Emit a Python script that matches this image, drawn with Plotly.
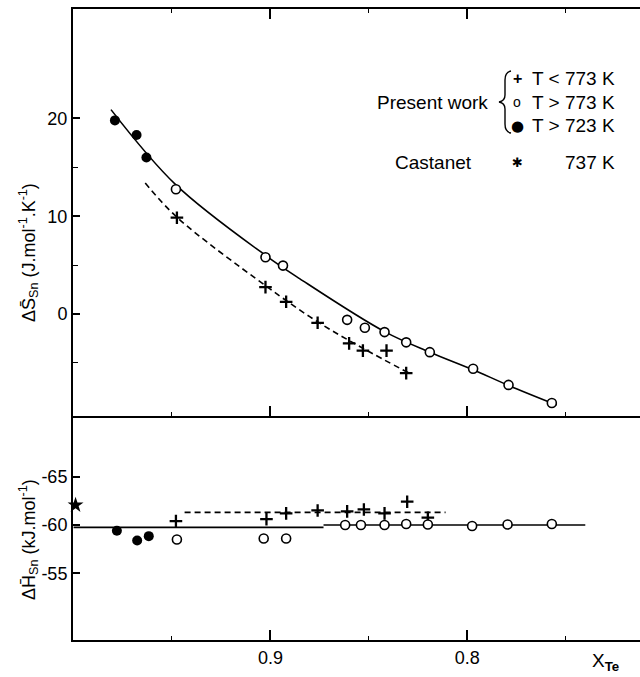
import plotly.graph_objects as go

# ---------------- data ----------------
# Top panel: partial molar entropy of Sn (J mol^-1 K^-1) vs X_Te
S_plus_x = [0.9475, 0.9025, 0.892, 0.876, 0.860, 0.853, 0.841, 0.831]
S_plus_y = [9.85, 2.75, 1.25, -0.9, -3.0, -3.75, -3.75, -6.05]
S_open_x = [0.948, 0.9025, 0.8936, 0.861, 0.852, 0.842, 0.831, 0.819, 0.797, 0.779, 0.757]
S_open_y = [12.75, 5.8, 4.95, -0.6, -1.4, -1.85, -2.9, -3.9, -5.6, -7.25, -9.1]
S_fill_x = [0.979, 0.968, 0.963]
S_fill_y = [19.8, 18.3, 16.0]
# fitted curves
S_fit_solid_x = [0.981, 0.948, 0.9025, 0.885, 0.842, 0.819, 0.797, 0.779, 0.7545]
S_fit_solid_y = [20.9, 13.2, 6.0, 3.6, -1.8, -3.9, -5.7, -7.3, -9.3]
S_fit_dash_x = [0.9636, 0.9475, 0.9025, 0.876, 0.853, 0.829]
S_fit_dash_y = [13.4, 9.9, 2.9, -0.8, -3.5, -6.1]

# Bottom panel: partial molar enthalpy of Sn (kJ mol^-1) vs X_Te
H_plus_x = [0.948, 0.902, 0.892, 0.876, 0.861, 0.8525, 0.842, 0.8305, 0.820]
H_plus_y = [-60.4, -60.6, -61.2, -61.5, -61.4, -61.6, -61.2, -62.4, -60.75]
H_open_x = [0.9475, 0.9034, 0.892, 0.862, 0.854, 0.842, 0.831, 0.820, 0.7975, 0.7795, 0.757]
H_open_y = [-58.5, -58.6, -58.6, -60.0, -60.0, -60.0, -60.1, -60.05, -59.9, -60.05, -60.1]
H_fill_x = [0.978, 0.9677, 0.9618]
H_fill_y = [-59.4, -58.4, -58.85]
H_cast_x = [0.999]
H_cast_y = [-62.05]
H_fit_solid1_x = [1.0, 0.873]
H_fit_solid1_y = [-59.75, -59.75]
H_fit_solid2_x = [0.873, 0.740]
H_fit_solid2_y = [-60.0, -60.0]
H_fit_dash_x = [0.9436, 0.811]
H_fit_dash_y = [-61.3, -61.3]

x_major = [0.9, 0.8]
x_major_text = ["0.9", "0.8"]
x_minor = [0.95, 0.85, 0.75]
S_ticks = [0, 10, 20]
S_minor = [-5, 5, 15]
H_ticks = [-65, -60, -55]
H_ticks_text = ["-65", "-60", "-55"]

# ---------------- figure ----------------
FONT = "Liberation Sans"
W, H = 640, 677
ML, MR, MT, MB = 73, 0, 9, 37
PW, PH = W - ML - MR, H - MT - MB


def px(x):
    return (x - ML) / PW


def py(y):
    return (H - MB - y) / PH


fig = go.Figure()

line_solid = dict(color="black", width=1.6)
line_dash = dict(color="black", width=1.6, dash="6px,4px")
m_plus = dict(symbol="cross-thin", size=9, color="black", line=dict(color="black", width=2.3))
m_open = dict(symbol="circle", size=9, color="white", line=dict(color="black", width=1.6))
m_fill = dict(symbol="circle", size=10, color="black")
m_star = dict(symbol="star", size=12, color="black")

# top panel
fig.add_trace(go.Scatter(x=S_fit_solid_x, y=S_fit_solid_y, mode="lines",
                         line=dict(**line_solid, shape="spline", smoothing=1.0),
                         xaxis="x2", yaxis="y2"))
fig.add_trace(go.Scatter(x=S_fit_dash_x, y=S_fit_dash_y, mode="lines",
                         line=dict(**line_dash, shape="spline", smoothing=1.0),
                         xaxis="x2", yaxis="y2"))
fig.add_trace(go.Scatter(x=S_plus_x, y=S_plus_y, mode="markers", marker=m_plus,
                         xaxis="x2", yaxis="y2"))
fig.add_trace(go.Scatter(x=S_open_x, y=S_open_y, mode="markers", marker=m_open,
                         xaxis="x2", yaxis="y2"))
fig.add_trace(go.Scatter(x=S_fill_x, y=S_fill_y, mode="markers", marker=m_fill,
                         xaxis="x2", yaxis="y2"))

# bottom panel
fig.add_trace(go.Scatter(x=H_fit_solid1_x, y=H_fit_solid1_y, mode="lines", line=line_solid,
                         xaxis="x", yaxis="y"))
fig.add_trace(go.Scatter(x=H_fit_solid2_x, y=H_fit_solid2_y, mode="lines", line=line_solid,
                         xaxis="x", yaxis="y"))
fig.add_trace(go.Scatter(x=H_fit_dash_x, y=H_fit_dash_y, mode="lines", line=line_dash,
                         xaxis="x", yaxis="y"))
fig.add_trace(go.Scatter(x=H_plus_x, y=H_plus_y, mode="markers", marker=m_plus,
                         xaxis="x", yaxis="y"))
fig.add_trace(go.Scatter(x=H_open_x, y=H_open_y, mode="markers", marker=m_open,
                         xaxis="x", yaxis="y"))
fig.add_trace(go.Scatter(x=H_fill_x, y=H_fill_y, mode="markers", marker=m_fill,
                         xaxis="x", yaxis="y"))
fig.add_trace(go.Scatter(x=H_cast_x, y=H_cast_y, mode="markers", marker=m_star,
                         xaxis="x", yaxis="y", cliponaxis=False))

# axis ranges computed from pixel calibration of the reference
x_range = [1.0003, 0.7122]
split = 0.355

xcommon = dict(range=x_range, showgrid=False, zeroline=False, showline=True,
               linecolor="black", linewidth=2, ticks="inside", ticklen=10,
               tickwidth=1.5, tickcolor="black", tickvals=x_major,
               minor=dict(tickvals=x_minor, ticklen=4, tickwidth=1.3,
                          tickcolor="black", ticks="inside", showgrid=False))

fig.update_layout(
    width=W, height=H,
    margin=dict(l=ML, r=MR, t=MT, b=MB),
    paper_bgcolor="white", plot_bgcolor="white",
    showlegend=False,
    font=dict(family=FONT, size=18, color="black"),
    xaxis=dict(xcommon, anchor="y", ticktext=x_major_text, mirror=False,
               tickfont=dict(family=FONT, size=18, color="black")),
    xaxis2=dict(xcommon, anchor="y2", matches="x", showticklabels=False,
                mirror="ticks"),
    yaxis=dict(domain=[0, split], range=[-48.14, -71.24], anchor="x",
               showgrid=False, zeroline=False, showline=True, linecolor="black",
               linewidth=2, ticks="inside", ticklen=7, tickwidth=1.5,
               tickcolor="black", tickvals=H_ticks, ticktext=H_ticks_text,
               tickfont=dict(family=FONT, size=18, color="black")),
    yaxis2=dict(domain=[split, 1], range=[-10.43, 31.19], anchor="x2",
                showgrid=False, zeroline=False, showline=True, linecolor="black",
                linewidth=2, ticks="inside", ticklen=7, tickwidth=1.5,
                tickcolor="black", tickvals=S_ticks,
                minor=dict(tickvals=S_minor, ticklen=5, tickwidth=1.3,
                           tickcolor="black", ticks="inside", showgrid=False),
                tickfont=dict(family=FONT, size=18, color="black")),
)

ann = []
# axis titles
ann.append(dict(x=px(28), y=py(253), xref="paper", yref="paper", textangle=-90,
                text="ΔS\u0304<sub>Sn</sub> (J.mol<sup>-1</sup>.K<sup>-1</sup>)",
                showarrow=False, xanchor="center", yanchor="middle",
                font=dict(family=FONT, size=18)))
ann.append(dict(x=px(28), y=py(540), xref="paper", yref="paper", textangle=-90,
                text="ΔH\u0304<sub>Sn</sub> (kJ.mol<sup>-1</sup>)",
                showarrow=False, xanchor="center", yanchor="middle",
                font=dict(family=FONT, size=18)))
ann.append(dict(x=px(590), y=py(662), xref="paper", yref="paper",
                text="X<sub><b>Te</b></sub>", showarrow=False,
                xanchor="left", yanchor="middle", font=dict(family=FONT, size=19)))

# legend block
rows = [79, 102, 126]
labels = ["T < 773 K", "T > 773 K", "T > 723 K"]
symbols = ["<b>+</b>", "o", "●"]
sym_fonts = [(FONT, 16), (FONT, 14), ("DejaVu Sans", 15)]
for r, lab, s, (ff, ss) in zip(rows, labels, symbols, sym_fonts):
    ann.append(dict(x=px(617), y=py(r), xref="paper", yref="paper", text=lab,
                    showarrow=False, xanchor="right", yanchor="middle",
                    font=dict(family=FONT, size=19)))
    ann.append(dict(x=px(517), y=py(r), xref="paper", yref="paper", text=s,
                    showarrow=False, xanchor="center", yanchor="middle",
                    font=dict(family=ff, size=ss)))
ann.append(dict(x=px(490), y=py(102), xref="paper", yref="paper", text="Present work",
                showarrow=False, xanchor="right", yanchor="middle",
                font=dict(family=FONT, size=19)))
ann.append(dict(x=px(474), y=py(162), xref="paper", yref="paper", text="Castanet",
                showarrow=False, xanchor="right", yanchor="middle",
                font=dict(family=FONT, size=19)))
ann.append(dict(x=px(517), y=py(162), xref="paper", yref="paper", text="✱",
                showarrow=False, xanchor="center", yanchor="middle",
                font=dict(family="DejaVu Sans", size=13)))
ann.append(dict(x=px(617), y=py(162), xref="paper", yref="paper", text="737 K",
                showarrow=False, xanchor="right", yanchor="middle",
                font=dict(family=FONT, size=19)))
fig.update_layout(annotations=ann)

# thin curly brace of the legend, drawn as a path in paper coordinates
bp = [(511, 71), (505, 72), (505, 80), (505, 95), (505, 101), (499, 102),
      (505, 103), (505, 109), (505, 124), (505, 132), (511, 133)]
P = [(px(a), py(b)) for a, b in bp]
path = ("M {0[0]},{0[1]} Q {1[0]},{1[1]} {2[0]},{2[1]} L {3[0]},{3[1]} "
        "Q {4[0]},{4[1]} {5[0]},{5[1]} Q {6[0]},{6[1]} {7[0]},{7[1]} "
        "L {8[0]},{8[1]} Q {9[0]},{9[1]} {10[0]},{10[1]}").format(*P)
fig.add_shape(type="path", path=path, xref="paper", yref="paper",
              line=dict(color="black", width=1.4))

fig.write_html("out.html", config={"displayModeBar": False},
               post_script="document.body.style.margin='0';document.body.style.overflow='hidden';")
